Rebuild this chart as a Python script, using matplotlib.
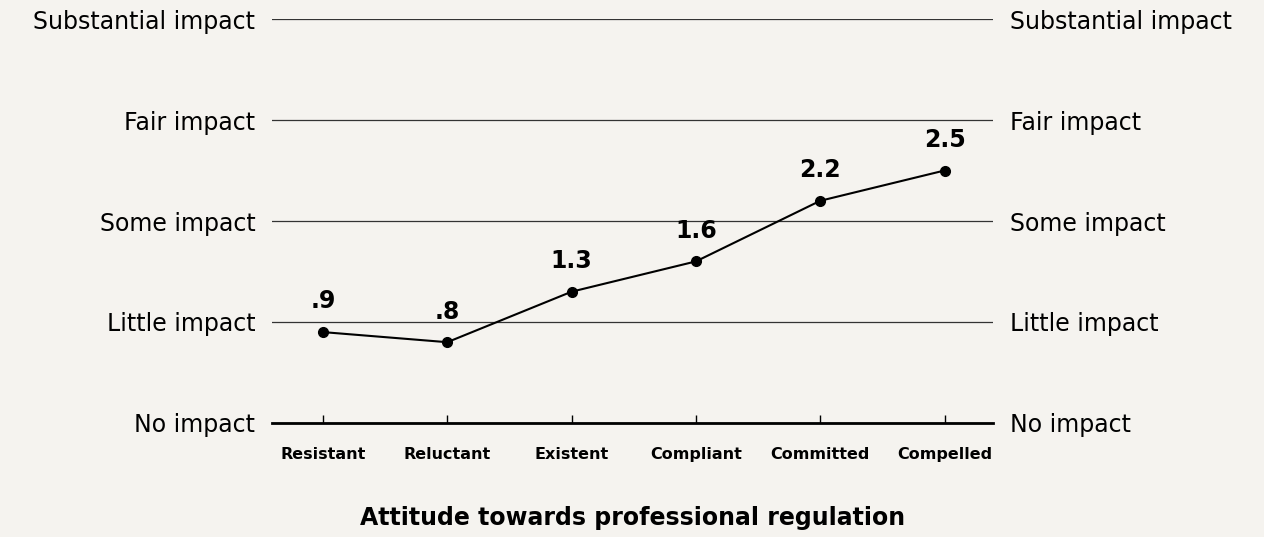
import matplotlib
matplotlib.use("Agg")
import matplotlib.pyplot as plt

# data
attitudes = ['Resistant', 'Reluctant', 'Existent', 'Compliant', 'Committed', 'Compelled']
impact = [0.9, 0.8, 1.3, 1.6, 2.2, 2.5]
value_labels = ['.9', '.8', '1.3', '1.6', '2.2', '2.5']
impact_levels = ['No impact', 'Little impact', 'Some impact', 'Fair impact', 'Substantial impact']

plt.rcParams['font.family'] = ['DejaVu Sans']
bg = '#f5f3ef'

fig = plt.figure(figsize=(12.64, 5.37), dpi=100, facecolor=bg)
ax = fig.add_axes([0.2152, 0.2123, 0.5704, 0.7523], facecolor=bg)

x = list(range(len(attitudes)))
ax.plot(x, impact, color='black', lw=1.5, marker='o', markersize=7, zorder=3)
for xi, yi, lab in zip(x, impact, value_labels):
    ax.annotate(lab, (xi, yi), xytext=(0, 17), textcoords='offset points',
                ha='center', va='baseline', fontsize=17, fontweight='bold')

ax.set_xlim(-0.41, 5.39)
ax.set_ylim(0, 4)
ax.set_yticks(range(len(impact_levels)))
ax.set_yticklabels(impact_levels, fontsize=17)
ax.yaxis.grid(True, color='#333333', lw=0.9)
ax.set_axisbelow(True)
ax.tick_params(axis='y', length=0, pad=12, labelright=True, right=False)

ax.set_xticks(x)
ax.set_xticklabels(attitudes, fontsize=11.5, fontweight='bold')
ax.tick_params(axis='x', direction='in', length=6, width=1, pad=17)

for s in ['top', 'left', 'right']:
    ax.spines[s].set_visible(False)
ax.spines['bottom'].set_linewidth(2)
ax.spines['bottom'].set_color('black')

ax.set_xlabel('Attitude towards professional regulation', fontsize=17,
              fontweight='bold', labelpad=32)

fig.savefig('out.png', dpi=100, facecolor=bg)
